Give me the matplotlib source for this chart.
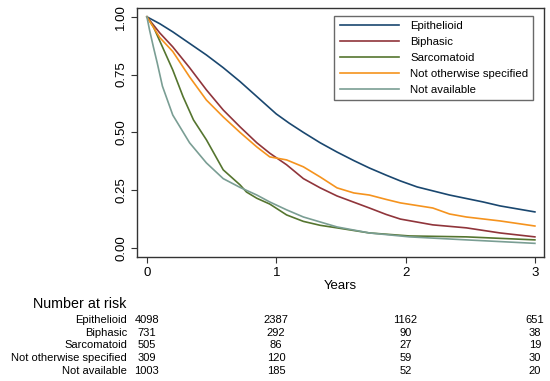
import matplotlib
matplotlib.use("Agg")
import matplotlib.pyplot as plt

plt.rcParams['font.family'] = ['Liberation Sans', 'DejaVu Sans']

groups = ["Epithelioid", "Biphasic", "Sarcomatoid", "Not otherwise specified", "Not available"]
colors = ["#1a476f", "#90353b", "#55752f", "#f5931e", "#7a9e94"]

epi_t = [0, 0.1, 0.2, 0.33, 0.46, 0.59, 0.72, 0.85, 1.0, 1.1, 1.21, 1.34, 1.47, 1.6, 1.72, 1.85, 1.96, 2.09, 2.34, 2.6, 2.73, 3.0]
epi_s = [1.0, 0.97, 0.935, 0.885, 0.835, 0.78, 0.72, 0.655, 0.58, 0.54, 0.50, 0.455, 0.415, 0.378, 0.346, 0.315, 0.29, 0.264, 0.229, 0.199, 0.182, 0.156]

bip_t = [0, 0.1, 0.2, 0.33, 0.46, 0.59, 0.72, 0.85, 0.95, 1.08, 1.21, 1.34, 1.47, 1.6, 1.72, 1.85, 1.96, 2.21, 2.47, 2.73, 3.0]
bip_s = [1.0, 0.93, 0.87, 0.78, 0.684, 0.597, 0.524, 0.455, 0.41, 0.36, 0.30, 0.26, 0.225, 0.198, 0.173, 0.145, 0.125, 0.10, 0.087, 0.065, 0.048]

sar_t = [0, 0.05, 0.12, 0.2, 0.28, 0.36, 0.46, 0.59, 0.72, 0.77, 0.85, 0.95, 1.08, 1.21, 1.34, 1.47, 1.72, 2.03, 2.47, 3.0]
sar_s = [1.0, 0.957, 0.87, 0.77, 0.654, 0.554, 0.468, 0.338, 0.273, 0.242, 0.215, 0.19, 0.143, 0.115, 0.098, 0.087, 0.065, 0.052, 0.048, 0.035]

nos_t = [0, 0.1, 0.2, 0.33, 0.46, 0.59, 0.72, 0.85, 0.95, 1.08, 1.21, 1.34, 1.47, 1.6, 1.72, 1.85, 1.96, 2.21, 2.34, 2.47, 2.73, 3.0]
nos_s = [1.0, 0.91, 0.85, 0.74, 0.64, 0.567, 0.50, 0.437, 0.394, 0.381, 0.351, 0.307, 0.26, 0.238, 0.229, 0.21, 0.195, 0.173, 0.147, 0.134, 0.117, 0.095]

na_t = [0, 0.02, 0.05, 0.08, 0.12, 0.2, 0.33, 0.46, 0.59, 0.72, 0.85, 0.95, 1.08, 1.21, 1.47, 1.72, 2.03, 2.47, 3.0]
na_s = [1.0, 0.944, 0.87, 0.80, 0.70, 0.575, 0.455, 0.368, 0.30, 0.262, 0.229, 0.199, 0.165, 0.134, 0.091, 0.065, 0.048, 0.035, 0.02]

risk_times = [0, 1, 2, 3]
risk_epi = [4098, 2387, 1162, 651]
risk_bip = [731, 292, 90, 38]
risk_sar = [505, 86, 27, 19]
risk_nos = [309, 120, 59, 30]
risk_na = [1003, 185, 52, 20]

times = [epi_t, bip_t, sar_t, nos_t, na_t]
survs = [epi_s, bip_s, sar_s, nos_s, na_s]
risks = [risk_epi, risk_bip, risk_sar, risk_nos, risk_na]

fig = plt.figure(figsize=(5.5, 3.81), dpi=100)
ax = fig.add_axes([0.249, 0.3255, 0.74, 0.654])

for t, s, c, g in zip(times, survs, colors, groups):
    ax.plot(t, s, color=c, lw=1.2, label=g)

ax.set_xlim(-0.077, 3.07)
ax.set_ylim(-0.039, 1.039)
ax.set_xticks([0, 1, 2, 3])
ax.set_yticks([0, 0.25, 0.5, 0.75, 1.0])
ax.set_yticklabels(["0.00", "0.25", "0.50", "0.75", "1.00"], rotation=90, va='center')
ax.tick_params(axis='both', labelsize=9.5, length=4, width=0.8, color='#333333', pad=3)
for sp in ax.spines.values():
    sp.set_linewidth(1.0)
    sp.set_color('#333333')
ax.set_xlabel("Years", fontsize=9.5, labelpad=1)

leg = ax.legend(loc='upper right', fontsize=8.2, frameon=True, fancybox=False,
                edgecolor='#444444', handlelength=5.2, handletextpad=1.0,
                borderpad=0.45, labelspacing=0.52, bbox_to_anchor=(0.988, 0.99))
leg.get_frame().set_linewidth(1.0)

fig.text(33 / 550, 1 - 304 / 381, "Number at risk", fontsize=10.3, ha='left', va='center')
row_y = [320, 332.5, 345.5, 358, 371]
for g, r, yp in zip(groups, risks, row_y):
    yf = 1 - yp / 381
    fig.text(127 / 550, yf, g, fontsize=8.0, ha='right', va='center')
    for tt, n in zip(risk_times, r):
        xd = ax.transData.transform((tt, 0))[0]
        xf = fig.transFigure.inverted().transform((xd, 0))[0]
        fig.text(xf, yf, str(n), fontsize=8.0, ha='center', va='center')

fig.savefig("out.png", dpi=100)
